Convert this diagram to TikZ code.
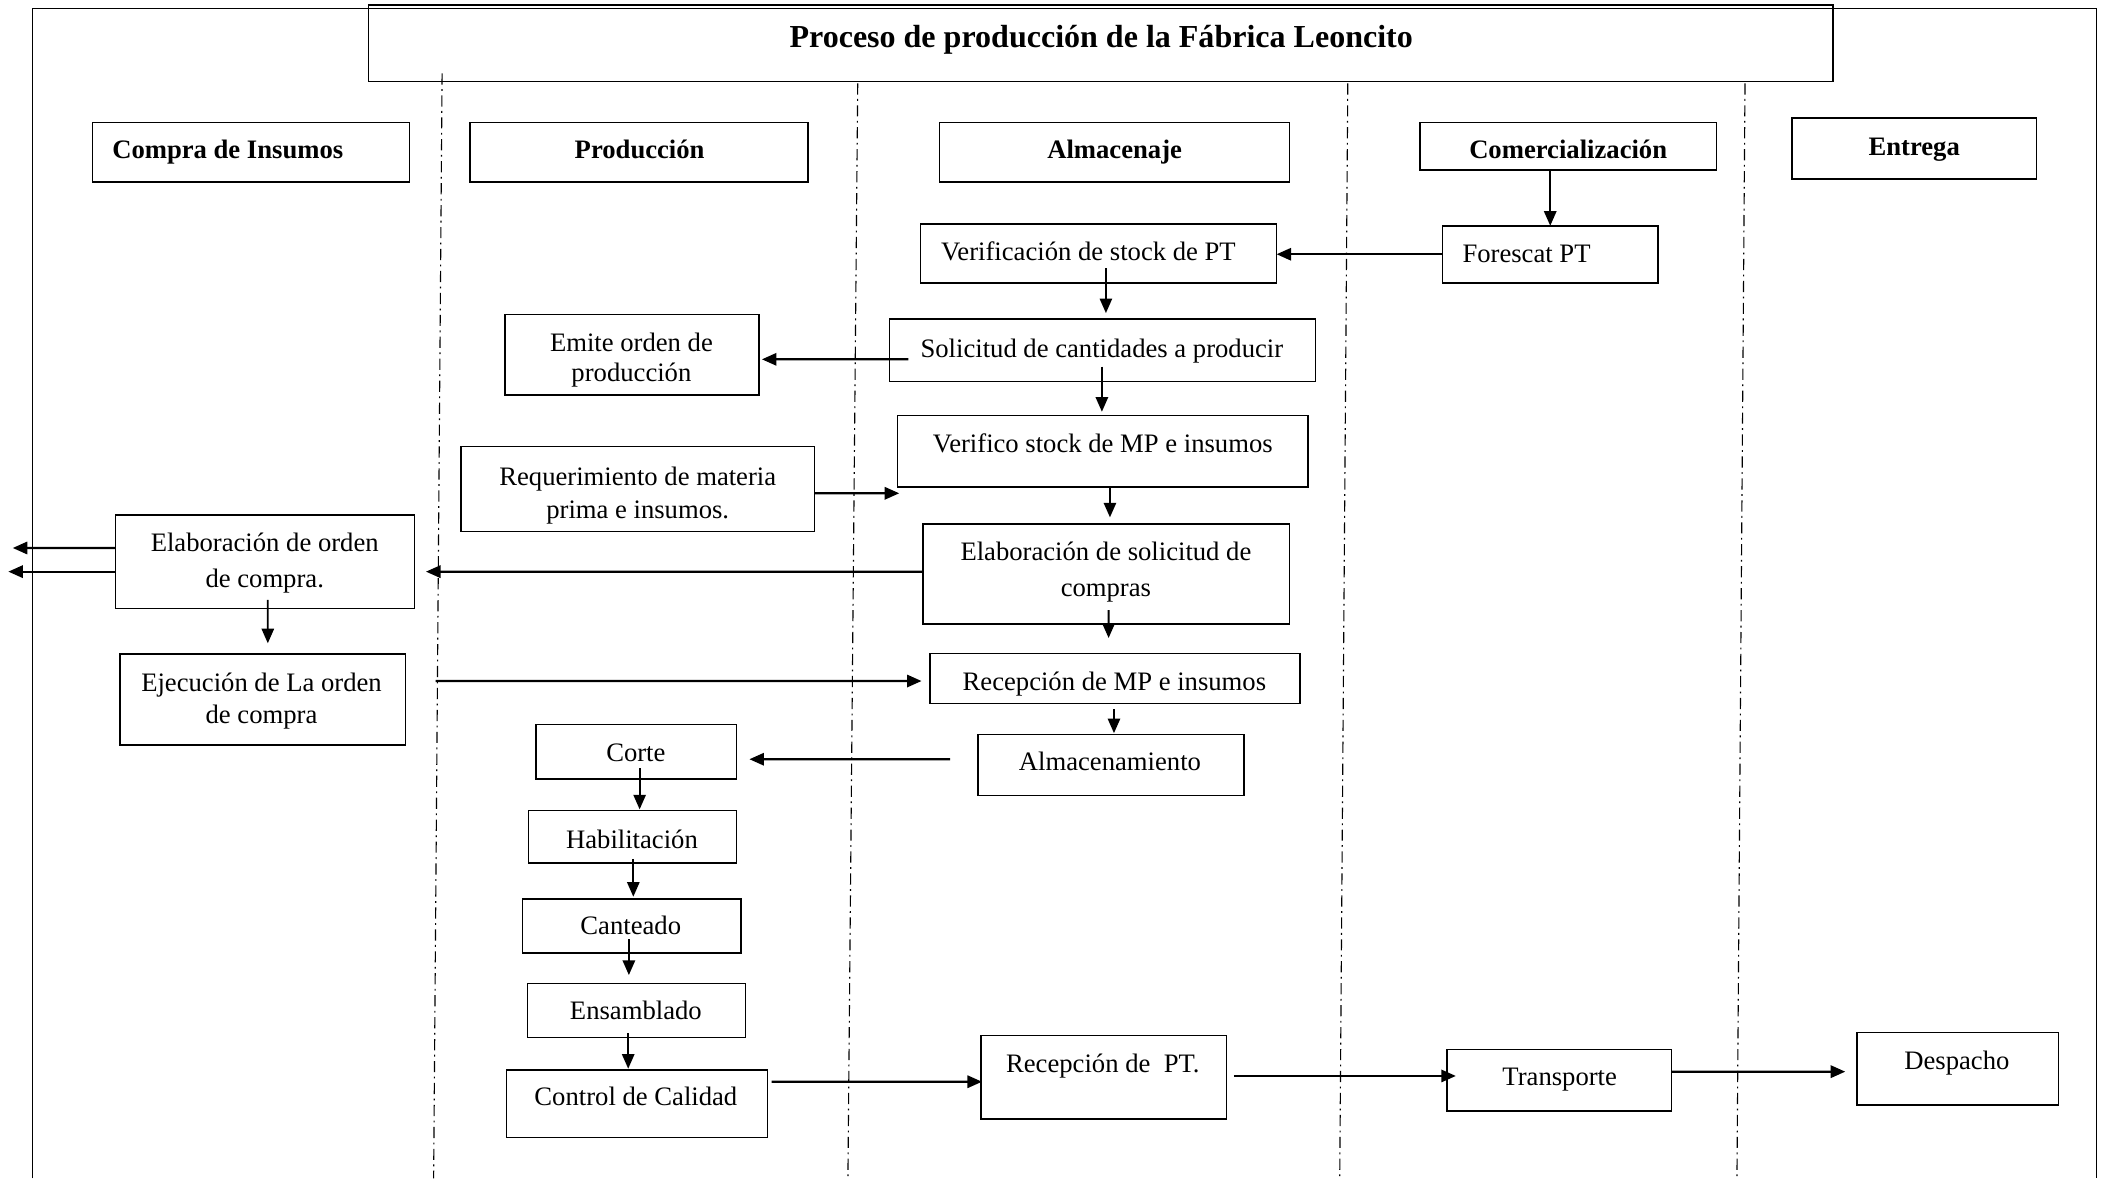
\documentclass[tikz,border=0pt]{standalone}
\usepackage{fontspec}
\setmainfont{Liberation Serif}
\usetikzlibrary{arrows.meta,fit,calc}
\begin{document}
\begin{tikzpicture}[x=0.6pt,y=-0.6pt,
  box/.style={draw,line width=0.7pt,inner sep=0pt,outer sep=0pt},
  lbl/.style={inner sep=0pt,text depth=0pt,font=\fontsize{11.9}{14}\selectfont,align=center},
  head/.style={inner sep=0pt,text depth=0pt,font=\fontsize{11.9}{14}\selectfont\bfseries},
  arr/.style={line width=0.8pt,-{Triangle[length=6.5pt,width=5.5pt]}},
  harr/.style={arr,line width=1pt},
  lane/.style={line width=0.5pt,dash pattern=on 5pt off 2pt on 0.8pt off 2pt}]
\useasboundingbox (0,0) rectangle (1568,877);

% outer frame
\draw[line width=0.5pt] (24,877) -- (24,6) -- (1560,6) -- (1560,877);

% lane dividers
\draw[lane] (329,54.6) -- (322.7,877);
\draw[lane] (638.3,62) -- (631,877);
\draw[lane] (1003,62) -- (997,877);
\draw[lane] (1298.6,62) -- (1292.6,877);

% title
\node[box,fit={(274.3,3.7) (1364,60.8)}] (title) {};
\node[head,font=\fontsize{14.3}{16}\selectfont\bfseries] (titletxt) at (819.5,27) {Proceso de producción de la Fábrica Leoncito};

% lane headers
\node[box,fit={(68.8,91) (304.7,135.4)}] (hcompra) {};
\node[head] (hcompratxt) at (169.5,111) {Compra de Insumos};
\node[box,fit={(349.8,91) (601.3,135.4)}] (hprod) {};
\node[head] (hprodtxt) at (476,111) {Producción};
\node[box,fit={(699,91) (959.5,135.4)}] (halm) {};
\node[head] (halmtxt) at (829.5,111) {Almacenaje};
\node[box,fit={(1056.8,91) (1277.4,126.5)}] (hcom) {};
\node[head] (hcomtxt) at (1167,111) {Comercialización};
\node[box,fit={(1333.6,88) (1515.4,133.2)}] (hent) {};
\node[head] (henttxt) at (1424.5,109) {Entrega};

% process steps
\node[box,fit={(685,166.7) (950,210.4)}] (verif) {};
\node[lbl] (veriftxt) at (810,187) {Verificación de stock de PT};
\node[box,fit={(1073.5,168) (1233.8,210.4)}] (fore) {};
\node[lbl] (foretxt) at (1136,188.5) {Forescat PT};
\node[box,fit={(662,237.5) (979,284)}] (solic) {};
\node[lbl] (solictxt) at (820,259) {Solicitud de cantidades a producir};
\node[box,fit={(375.9,233.9) (564.8,294)}] (emite) {};
\node[lbl] (emitetxt) at (469.9,266.2) {Emite orden de\\[-0.6pt]producción};
\node[box,fit={(668,309.3) (973.4,362.2)}] (verimp) {};
\node[lbl] (verimptxt) at (820.7,329.9) {Verifico stock de MP e insumos};
\node[box,fit={(343.1,332.4) (606,395.6)}] (reqmp) {};
\node[lbl] (reqmptxt) at (474.6,366.5) {Requerimiento de materia\\[0.8pt]prima e insumos.};
\node[box,fit={(686.9,390) (959.6,464.4)}] (elabsol) {};
\node[lbl] (elabsoltxt) at (823,423.9) {Elaboración de solicitud de\\[2.1pt]compras};
\node[box,fit={(85.9,383.2) (308.5,452.7)}] (elaboc) {};
\node[lbl] (elaboctxt) at (197,417.1) {Elaboración de orden\\[2pt]de compra.};
\node[box,fit={(89.2,486.7) (301.8,554.4)}] (ejec) {};
\node[lbl] (ejectxt) at (194.6,519.5) {Ejecución de La orden\\[0.6pt]de compra};
\node[box,fit={(692,486.2) (967.6,523.4)}] (recmp) {};
\node[lbl] (recmptxt) at (829.3,506.8) {Recepción de MP e insumos};
\node[box,fit={(727.6,546.5) (925.8,592)}] (almac) {};
\node[lbl] (almactxt) at (826,566.8) {Almacenamiento};
\node[box,fit={(398.7,539) (548.2,579.7)}] (corte) {};
\node[lbl] (cortetxt) at (473.2,559.9) {Corte};
\node[box,fit={(393.4,603.3) (548.2,642.2)}] (habil) {};
\node[lbl] (habiltxt) at (470.3,624.6) {Habilitación};
\node[box,fit={(388.7,669) (551.5,709.4)}] (cant) {};
\node[lbl] (canttxt) at (469.4,688.9) {Canteado};
\node[box,fit={(392.5,732) (554.8,772.2)}] (ensam) {};
\node[lbl] (ensamtxt) at (473.2,751.6) {Ensamblado};
\node[box,fit={(376.8,796.3) (571,846.6)}] (control) {};
\node[lbl] (controltxt) at (473.2,815.6) {Control de Calidad};
\node[box,fit={(729.9,770.7) (912.6,832.7)}] (recpt) {};
\node[lbl] (recpttxt) at (820.7,791.3) {Recepción de\ \ PT.};
\node[box,fit={(1077,780.9) (1243.8,826.8)}] (transp) {};
\node[lbl] (transptxt) at (1160.7,801.2) {Transporte};
\node[box,fit={(1381.9,768.2) (1532,822.3)}] (desp) {};
\node[lbl] (desptxt) at (1456.3,788.8) {Despacho};

% free ends of the outgoing purchase-order arrows
\coordinate (outA) at (9.5,407.8);
\coordinate (outB) at (6.2,425.4);

% connectors
\draw[arr] (hcom.south -| fore.north) -- (fore.north);
\draw[harr] (fore.west) -- (verif.east |- fore.west);
\draw[arr] ($(verif.south)+(5.5,-10.8)$) -- ($(solic.north)+(2.5,-4.5)$);
\draw[harr] ($(solic.west)+(14,6.65)$) -- ($(emite.east)+(2.2,3.45)$);
\draw[arr] ($(solic.south)+(-0.5,-11.1)$) -- ($(verimp.north)+(-0.7,-2.9)$);
\draw[harr] ($(reqmp.east)+(0,3.1)$) -- ($(verimp.west)+(1.2,31.35)$);
\draw[arr] ($(verimp.south)+(5.3,0)$) -- ($(elabsol.north)+(2.75,-5)$);
\draw[harr] ($(elabsol.west)+(0,-1.8)$) -- ($(elaboc.east)+(8.5,7.45)$);
\draw[harr] ($(elaboc.west)+(0,-10.15)$) -- (outA);
\draw[harr] ($(elaboc.west)+(0,7.45)$) -- (outB);
\draw[arr] ($(elaboc.south)+(2.1,-6.2)$) -- ($(ejec.north)+(3.8,-8)$);
\draw[harr] ($(ejec.east)+(22.4,-13.75)$) -- ($(recmp.west)+(-6.2,2)$);
\draw[arr] ($(elabsol.south)+(1.75,-10.4)$) -- ($(recmp.north)+(-4.8,-11.4)$);
\draw[arr] ($(recmp.south)+(-0.8,4.3)$) -- ($(almac.north)+(2.3,-0.9)$);
\draw[harr] ($(almac.west)+(-20.6,-4.25)$) -- ($(corte.east)+(9.5,5.65)$);
\draw[arr] ($(corte.south)+(2.55,-7.9)$) -- ($(habil.north)+(5.2,-1)$);
\draw[arr] ($(habil.south)+(0.5,-3)$) -- ($(cant.north)+(1.2,-1.7)$);
\draw[arr] ($(cant.south)+(-2.1,-10.4)$) -- ($(ensam.north)+(-5.65,-6.4)$);
\draw[arr] ($(ensam.south)+(-6.15,-3.2)$) -- ($(control.north)+(-6.4,-1)$);
\draw[harr] ($(control.east)+(3.3,-16.45)$) -- ($(recpt.west)+(0.9,3.3)$);
\draw[harr] ($(recpt.east)+(5.7,-1)$) -- ($(transp.west)+(6.4,-3.15)$);
\draw[harr] ($(transp.east)+(0,-6.35)$) -- ($(desp.west)+(-8.7,2.25)$);
\end{tikzpicture}
\end{document}
